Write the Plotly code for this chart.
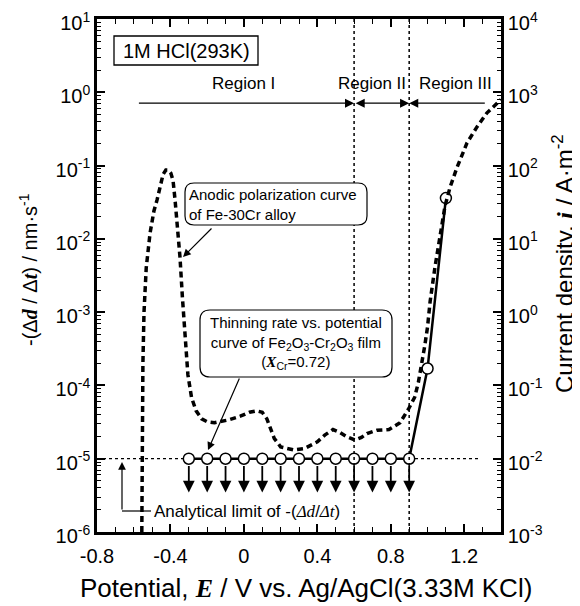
import numpy as np
import plotly.graph_objects as go

# ---------------- data ----------------
# anodic polarization curve of Fe-30Cr alloy (current density, A/m^2, right axis)
E_pol = [-0.556, -0.555, -0.553, -0.550, -0.544, -0.532, -0.511, -0.490, -0.473, -0.457,
         -0.440, -0.425, -0.413, -0.398, -0.386, -0.375, -0.360, -0.348, -0.335, -0.322,
         -0.305, -0.285, -0.260, -0.230, -0.200, -0.160, -0.130, -0.080, -0.020, 0.030,
         0.070, 0.100, 0.125, 0.145, 0.165, 0.200, 0.270, 0.330, 0.400, 0.440,
         0.485, 0.520, 0.560, 0.605, 0.640, 0.670, 0.725, 0.790, 0.850, 0.895,
         0.930, 0.950, 0.970, 0.985, 1.000, 1.014, 1.041, 1.068, 1.095, 1.123,
         1.161, 1.215, 1.270, 1.324, 1.379, 1.400]
i_pol = [0.001, 0.01, 0.05, 0.2, 1.0, 4.0, 12, 24, 34, 51,
         76, 87, 87, 79, 63, 34, 14, 5.6, 1.6, 0.5,
         0.14, 0.068, 0.045, 0.035, 0.032, 0.031, 0.032, 0.034, 0.038, 0.043,
         0.045, 0.043, 0.035, 0.025, 0.019, 0.0145, 0.0132, 0.0138, 0.017, 0.021,
         0.025, 0.023, 0.020, 0.018, 0.0195, 0.022, 0.0245, 0.025, 0.031, 0.047,
         0.069, 0.11, 0.2, 0.35, 0.63, 1.4, 4.2, 10.7, 28, 51,
         95, 204, 340, 525, 715, 795]

# thinning rate of Fe2O3-Cr2O3 film (nm/s, left axis)
E_thin = [-0.3, -0.2, -0.1, 0.0, 0.1, 0.2, 0.3, 0.4, 0.5, 0.6, 0.7, 0.8, 0.9, 1.0, 1.1]
rate_thin = [1e-5, 1e-5, 1e-5, 1e-5, 1e-5, 1e-5, 1e-5, 1e-5, 1e-5, 1e-5, 1e-5, 1e-5, 1e-5,
             1.7e-4, 3.6e-2]
upper_limit = [True] * 13 + [False, False]   # points at analytical limit

detection_limit = 1e-5
limit_x = [-0.8, 1.275]

region_bounds = [0.6, 0.9]
region_y = 0.71
region_start, region_end = -0.58, 1.32
region_labels = ["Region I", "Region II", "Region III"]
region_label_x = [0.0, 0.70, 1.15]

x_ticks = [-0.8, -0.4, 0, 0.4, 0.8, 1.2]
x_ticktext = ["-0.8", "-0.4", "0", "0.4", "0.8", "1.2"]
yl_exp = [-6, -5, -4, -3, -2, -1, 0, 1]
yr_exp = [-3, -2, -1, 0, 1, 2, 3, 4]

# ---------------- layout constants ----------------
# the page body has an 8px margin, so the figure is offset by 8px; screen coords below
OFF = 8
FIG_W, FIG_H = 580 - OFF, 606 - OFF
L, T, W, H = 97, 19, 404, 513          # plot area on screen
FONT = "Liberation Sans, Arial, Helvetica, sans-serif"
SERIF = "Liberation Serif, Times New Roman, serif"


def px(xp):
    return (xp - L) / W


def py(yp):
    return 1 - (yp - T) / H


def serif_bi(s):
    return f'<span style="font-family:{SERIF}"><b><i>{s}</i></b></span>'


def serif_i(s):
    return f'<span style="font-family:{SERIF}"><i>{s}</i></span>'


def rounded_rect(x0, y0, x1, y1, r):
    X0, X1 = px(x0), px(x1)
    Y0, Y1 = py(y0), py(y1)
    rx, ry = r / W, r / H
    return (f"M {X0+rx},{Y0} L {X1-rx},{Y0} Q {X1},{Y0} {X1},{Y0-ry} "
            f"L {X1},{Y1+ry} Q {X1},{Y1} {X1-rx},{Y1} "
            f"L {X0+rx},{Y1} Q {X0},{Y1} {X0},{Y1+ry} "
            f"L {X0},{Y0-ry} Q {X0},{Y0} {X0+rx},{Y0} Z")


def label(xp, yp, text, size, **kw):
    d = dict(x=px(xp), y=py(yp), xref="paper", yref="paper", text=text, showarrow=False,
             xanchor="center", yanchor="middle",
             font=dict(family=FONT, size=size, color="black"))
    d.update(kw)
    return d


fig = go.Figure()

# horizontal dotted detection limit line
fig.add_trace(go.Scatter(x=limit_x, y=[detection_limit] * 2, mode="lines",
                         line=dict(color="black", width=1.3, dash="dot"),
                         yaxis="y", showlegend=False, hoverinfo="skip"))

# anodic polarization curve (right axis)
fig.add_trace(go.Scatter(x=E_pol, y=i_pol, mode="lines",
                         line=dict(color="black", width=3.5, dash="6px,4px"),
                         yaxis="y2", showlegend=False))

# thinning rate curve (left axis)
fig.add_trace(go.Scatter(x=E_thin, y=rate_thin, mode="lines+markers",
                         line=dict(color="black", width=2.5),
                         marker=dict(symbol="circle", size=11, color="white",
                                     line=dict(color="black", width=1.5)),
                         yaxis="y", showlegend=False))

shapes = []
annotations = []

# vertical dotted region boundaries
for xb in region_bounds:
    shapes.append(dict(type="line", xref="x", yref="paper", x0=xb, x1=xb, y0=0, y1=1,
                       line=dict(color="black", width=1.5, dash="dot")))

# region arrows
ry = np.log10(region_y)
arrow_common = dict(xref="x", yref="y", axref="x", ayref="y", text="", showarrow=True,
                    arrowcolor="black", arrowwidth=1.3, arrowhead=2, arrowsize=1.4,
                    standoff=0, startstandoff=0)
annotations.append(dict(x=region_bounds[0], y=ry, ax=region_start, ay=ry, **arrow_common))
annotations.append(dict(x=region_bounds[1], y=ry, ax=region_bounds[0], ay=ry,
                        arrowside="end+start", startarrowhead=2, startarrowsize=1.4,
                        **arrow_common))
annotations.append(dict(x=region_bounds[1], y=ry, ax=region_end, ay=ry, **arrow_common))
for lab, lx in zip(region_labels, region_label_x):
    annotations.append(dict(x=lx, y=py(83), xref="x", yref="paper", text=lab,
                            showarrow=False, xanchor="center", yanchor="middle",
                            font=dict(family=FONT, size=17, color="black")))

# upper-limit arrows below circles
for xv, yv, ul in zip(E_thin, rate_thin, upper_limit):
    if ul:
        ly = np.log10(yv)
        annotations.append(dict(x=xv, y=ly - 0.46, ax=xv, ay=ly - 0.08,
                                xref="x", yref="y", axref="x", ayref="y", text="",
                                showarrow=True, arrowcolor="black", arrowwidth=1.8,
                                arrowhead=2, arrowsize=1.3, standoff=0))

# 1M HCl box
shapes.append(dict(type="rect", xref="paper", yref="paper", x0=px(114), x1=px(258),
                   y0=py(65), y1=py(36), line=dict(color="black", width=1.3),
                   fillcolor="white"))
annotations.append(label(186, 51, "1M HCl(293K)", 20))

# anodic callout
shapes.append(dict(type="path", xref="paper", yref="paper",
                   path=rounded_rect(185, 183, 367, 225, 9),
                   line=dict(color="black", width=1.2), fillcolor="white"))
annotations.append(label(273, 204, "Anodic polarization curve<br>of Fe-30Cr alloy", 15,
                         align="left"))
annotations.append(dict(x=px(183), y=py(257), xref="paper", yref="paper", ax=30, ay=-30,
                        text="", showarrow=True, arrowcolor="black", arrowwidth=1.2,
                        arrowhead=2, arrowsize=1.3, standoff=0))

# thinning callout
shapes.append(dict(type="path", xref="paper", yref="paper",
                   path=rounded_rect(200, 310, 392, 377, 10),
                   line=dict(color="black", width=1.2), fillcolor="white"))
annotations.append(label(296, 343,
                         ("Thinning rate vs. potential<br>curve of Fe<sub>2</sub>O<sub>3</sub>"
                          "-Cr<sub>2</sub>O<sub>3</sub> film<br>(" + serif_bi("X")
                          + "<sub>Cr</sub>=0.72)"), 15, align="center"))
annotations.append(dict(x=px(208), y=py(450), xref="paper", yref="paper", ax=32, ay=-73,
                        text="", showarrow=True, arrowcolor="black", arrowwidth=1.2,
                        arrowhead=2, arrowsize=1.3, standoff=0))

# analytical limit
shapes.append(dict(type="line", xref="paper", yref="paper", x0=px(122), x1=px(151),
                   y0=py(511), y1=py(511), line=dict(color="black", width=1.2)))
annotations.append(dict(x=px(122), y=py(462), xref="paper", yref="paper", ax=0, ay=49,
                        text="", showarrow=True, arrowcolor="black", arrowwidth=1.2,
                        arrowhead=2, arrowsize=1.3, standoff=0))
annotations.append(label(152, 511,
                         "Analytical limit of -(" + serif_i("Δd") + "/" + serif_i("Δt") + ")",
                         17, xanchor="left"))

# axis titles
annotations.append(label(306, 588,
                         "Potential, " + serif_bi("E") + " / V vs. Ag/AgCl(3.33M KCl)", 26))
annotations.append(label(28, 270,
                         "-(Δ" + serif_bi("d") + " / Δ" + serif_bi("t")
                         + ") / nm·s<sup>-1</sup>", 20, textangle=-90))
annotations.append(label(563, 264,
                         "Current density, " + serif_bi("i") + " / A·m<sup>-2</sup>", 24,
                         textangle=-90))


def log_ticks(exps):
    vals = [10.0 ** e for e in exps]
    text = [f"10<sup>{e}</sup>" for e in exps]
    minor = [m * 10.0 ** e for e in exps[:-1] for m in range(2, 10)]
    return vals, text, minor


ylv, ylt, ylm = log_ticks(yl_exp)
yrv, yrt, yrm = log_ticks(yr_exp)

axis_common = dict(showline=True, linecolor="black", linewidth=2.5, ticks="inside",
                   tickcolor="black", tickwidth=1.5, ticklen=8, showgrid=False,
                   zeroline=False, automargin=False, ticklabeloverflow="allow",
                   tickfont=dict(family=FONT, size=20, color="black"))

fig.update_layout(
    width=FIG_W, height=FIG_H,
    margin=dict(l=L - OFF, r=FIG_W - (L - OFF) - W, t=T - OFF,
                b=FIG_H - (T - OFF) - H, autoexpand=False),
    paper_bgcolor="white", plot_bgcolor="white",
    showlegend=False,
    xaxis=dict(range=[-0.8, 1.4], tickmode="array", tickvals=x_ticks, ticktext=x_ticktext,
               mirror="ticks", ticklabelstandoff=4,
               minor=dict(dtick=0.1, tick0=0, ticks="inside", ticklen=5,
                          tickwidth=1.2, tickcolor="black"),
               **axis_common),
    yaxis=dict(type="log", range=[-6, 1], tickmode="array", tickvals=ylv, ticktext=ylt,
               ticklabelshift=4,
               minor=dict(tickmode="array", tickvals=ylm, ticks="inside", ticklen=4,
                          tickwidth=1, tickcolor="black"),
               **axis_common),
    yaxis2=dict(type="log", range=[-3, 4], tickmode="array", tickvals=yrv, ticktext=yrt,
                overlaying="y", side="right", ticklabelshift=4,
                minor=dict(tickmode="array", tickvals=yrm, ticks="inside", ticklen=4,
                           tickwidth=1, tickcolor="black"),
                **axis_common),
    shapes=shapes,
    annotations=annotations,
)

fig.write_html("out.html")
